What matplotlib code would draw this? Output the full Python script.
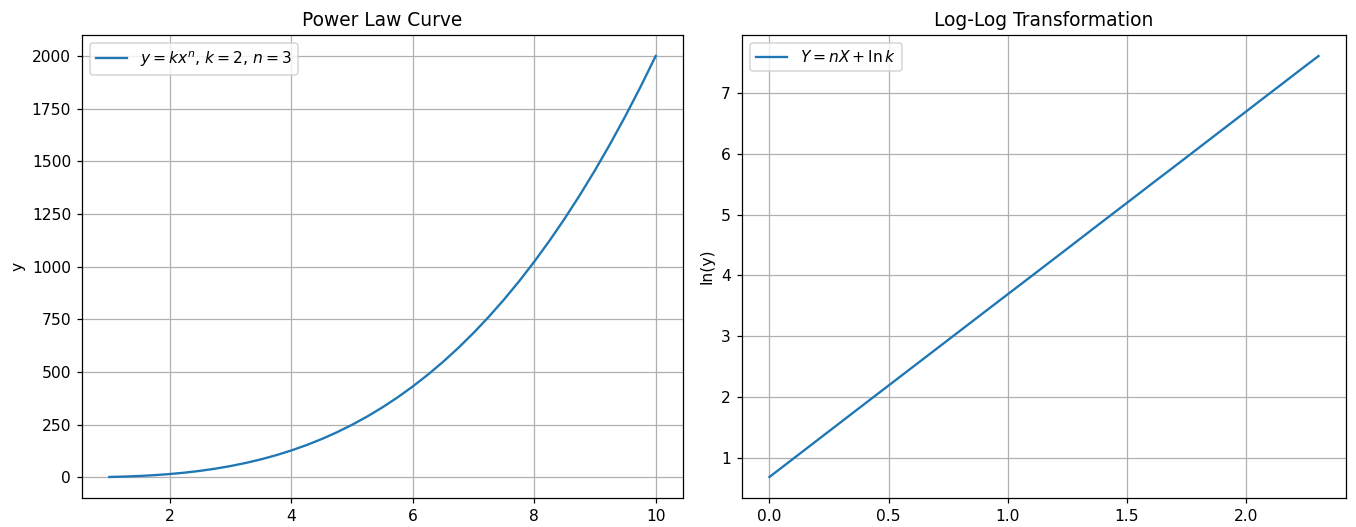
import matplotlib
matplotlib.use("Agg")
import matplotlib.pyplot as plt

# Values (x, y)
x_vals = [1.0, 1.25, 1.5, 1.75, 2.0, 2.25, 2.5, 2.75, 3.0, 3.25, 3.5, 3.75,
          4.0, 4.25, 4.5, 4.75, 5.0, 5.25, 5.5, 5.75, 6.0, 6.25, 6.5, 6.75,
          7.0, 7.25, 7.5, 7.75, 8.0, 8.25, 8.5, 8.75, 9.0, 9.25, 9.5, 9.75, 10.0]
y_vals = [2.0, 3.9, 6.75, 10.7, 16.0, 22.8, 31.25, 41.6, 54.0, 68.7, 85.75,
          105.5, 128.0, 153.5, 182.25, 214.3, 250.0, 289.4, 332.75, 380.2,
          432.0, 488.3, 549.25, 615.1, 686.0, 762.2, 843.75, 930.9, 1024.0,
          1123.0, 1228.25, 1339.8, 1458.0, 1582.9, 1714.75, 1853.7, 2000.0]
# Log-log transformed values (X = ln x, Y = ln y)
lnx_vals = [0.0, 0.405, 0.693, 0.916, 1.099, 1.253, 1.386, 1.504, 1.609, 1.705,
            1.792, 1.872, 1.946, 2.015, 2.079, 2.140, 2.197, 2.251, 2.303]
lny_vals = [0.693, 1.910, 2.773, 3.442, 3.989, 4.451, 4.852, 5.205, 5.521, 5.807,
            6.068, 6.309, 6.531, 6.738, 6.931, 7.113, 7.285, 7.447, 7.601]

DPI = 112
fig = plt.figure(figsize=(1356 / DPI, 527 / DPI), dpi=DPI)
ax1 = fig.add_axes([0.0605, 0.055, 0.4432, 0.8786])
ax2 = fig.add_axes([0.5472, 0.055, 0.4454, 0.8786])

ax1.plot(x_vals, y_vals, label=r'$y = kx^n$, $k=2$, $n=3$')
ax1.set_title('Power Law Curve')
ax1.set_ylabel('y')
ax1.grid(True)
ax1.legend(loc='upper left')

ax2.plot(lnx_vals, lny_vals, label=r'$Y = nX + \ln k$')
ax2.set_title('Log-Log Transformation')
ax2.set_ylabel('ln(y)')
ax2.grid(True)
ax2.legend(loc='upper left')

fig.savefig('out.png', dpi=DPI)
